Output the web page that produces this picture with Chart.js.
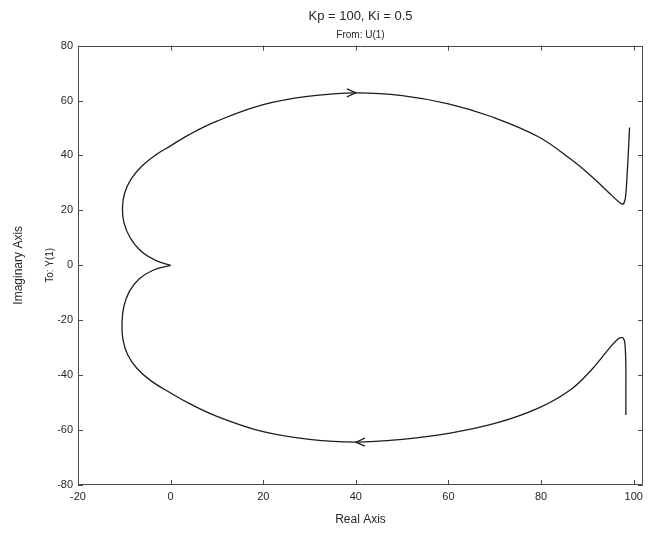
<!DOCTYPE html>
<html><head><meta charset="utf-8">
<script src="https://cdn.jsdelivr.net/npm/chart.js@4/dist/chart.umd.min.js"></script>
<style>html,body{margin:0;padding:0;background:#fff}</style>
</head><body>
<canvas id="c" width="648" height="533"></canvas>
<script>
// Tick labels
const xTicks = [-20, 0, 20, 40, 60, 80, 100];
const yTicks = [-80, -60, -40, -20, 0, 20, 40, 60, 80];

// Nyquist curve pieces (Real, Imaginary), in traversal order
const lowerTailRe = [98.3, 98.3, 98.3, 98.2, 98.0, 97.6];
const lowerTailIm = [-54.5, -45, -37, -31, -27.5, -26.2];

const lowerArcRe = [97.6, 96.6, 94.4, 90.8, 86.2, 79.4, 70, 60, 50, 40, 30, 20, 10, 4, 0, -4.3, -7.3, -9.3, -10.3, -10.5, -10.1, -8.9, -6.8, -3.8, 0];
const lowerArcIm = [-26.2, -26.8, -30.9, -38.2, -45.5, -52, -57.6, -61.2, -63.4, -64.4, -63.4, -60.6, -55, -50.3, -46.5, -42, -37.5, -32.5, -27, -21, -15, -9.5, -5, -1.8, 0];

const upperArcRe = [0, -3, -6.3, -8.8, -10.1, -10.4, -9.9, -8.5, -6.3, -3.2, 0, 4, 10, 20, 30, 40, 50, 60, 69.5, 79.4, 86.5, 90.8, 94.4, 97, 97.8];
const upperArcIm = [0, 1.6, 5, 10.2, 15.6, 21, 26.5, 31.5, 36, 40.2, 43.5, 47.6, 52.5, 58.5, 61.6, 62.8, 61.8, 58.8, 54, 46.8, 38.5, 32.5, 26.8, 22.8, 22.2];

const upperTailRe = [97.8, 98.2, 98.5, 98.8, 99.1];
const upperTailIm = [22.2, 24.5, 31, 40, 50.2];

// Direction arrows
const arrowRe = [40, 40];
const arrowIm = [62.8, -64.4];
const arrowDir = [1, -1];

const FONT = "'Liberation Sans', Arial, Helvetica, sans-serif";
const TXT = '#262626';
const LINE = '#1c1c1c';

function pts(xs, ys) { return xs.map((v, i) => ({ x: v, y: ys[i] })); }
function ds(xs, ys) {
  return { data: pts(xs, ys), showLine: true, borderColor: LINE, borderWidth: 1.3,
           pointRadius: 0, tension: 0.4, fill: false };
}

const framePlugin = {
  id: 'frame',
  afterDatasetsDraw(chart) {
    const { ctx, chartArea: a, scales: { x, y } } = chart;
    ctx.save();
    ctx.strokeStyle = '#4a4a4a';
    ctx.lineWidth = 1;
    ctx.beginPath();
    ctx.rect(Math.round(a.left) + 0.5, Math.round(a.top) + 0.5,
             Math.round(a.right - a.left) - 1, Math.round(a.bottom - a.top) - 1);
    x.ticks.forEach(t => {
      const px = Math.round(x.getPixelForValue(t.value)) + 0.5;
      ctx.moveTo(px, a.bottom); ctx.lineTo(px, a.bottom - 5);
      ctx.moveTo(px, a.top); ctx.lineTo(px, a.top + 5);
    });
    y.ticks.forEach(t => {
      const py = Math.round(y.getPixelForValue(t.value)) + 0.5;
      ctx.moveTo(a.left, py); ctx.lineTo(a.left + 5, py);
      ctx.moveTo(a.right, py); ctx.lineTo(a.right - 5, py);
    });
    ctx.stroke();
    // arrows
    ctx.strokeStyle = LINE;
    ctx.lineWidth = 1.2;
    arrowRe.forEach((re, i) => {
      const px = x.getPixelForValue(re), py = y.getPixelForValue(arrowIm[i]);
      const d = arrowDir[i];
      ctx.beginPath();
      ctx.moveTo(px - d * 9, py - 4);
      ctx.lineTo(px, py);
      ctx.lineTo(px - d * 9, py + 4);
      ctx.stroke();
    });
    ctx.restore();
  }
};

new Chart(document.getElementById('c'), {
  type: 'scatter',
  data: { datasets: [ds(lowerTailRe, lowerTailIm), ds(lowerArcRe, lowerArcIm),
                     ds(upperArcRe, upperArcIm), ds(upperTailRe, upperTailIm)] },
  options: {
    responsive: false,
    animation: false,
    events: [],
    layout: { padding: { left: 0, right: 5, top: 0, bottom: 0 } },
    plugins: {
      legend: { display: false },
      tooltip: { enabled: false },
      title: { display: true, text: 'Kp = 100, Ki = 0.5', fullSize: false, color: TXT,
               font: { family: FONT, size: 13, weight: 'normal' }, padding: { top: 9, bottom: 2 } },
      subtitle: { display: true, text: 'From: U(1)', fullSize: false, color: TXT,
                  font: { family: FONT, size: 10, weight: 'normal' }, padding: { top: 3, bottom: 4 } }
    },
    scales: {
      x: {
        type: 'linear', position: 'bottom', min: -20, max: 102,
        afterBuildTicks: s => { s.ticks = xTicks.map(v => ({ value: v })); },
        afterFit: s => { s.height = 48; },
        grid: { display: false, drawTicks: false },
        border: { display: false },
        ticks: { color: TXT, font: { family: FONT, size: 11 }, padding: 5, maxRotation: 0, autoSkip: false },
        title: { display: true, text: 'Real Axis', color: TXT, font: { family: FONT, size: 12 },
                 padding: { top: 0, bottom: 6 } }
      },
      y: {
        type: 'linear', position: 'left', min: -80, max: 80, weight: 0,
        afterBuildTicks: s => { s.ticks = yTicks.map(v => ({ value: v })); },
        afterFit: s => { s.width = 20; },
        grid: { display: false, drawTicks: false },
        border: { display: false },
        ticks: { color: TXT, font: { family: FONT, size: 11 }, padding: 5, autoSkip: false }
      },
      yTo: {
        type: 'linear', position: 'left', weight: 1,
        afterFit: s => { s.width = 22; },
        grid: { display: false, drawTicks: false },
        border: { display: false },
        ticks: { display: false },
        title: { display: true, text: 'To: Y(1)', color: TXT, font: { family: FONT, size: 10 },
                 padding: { top: 8, bottom: 0 } }
      },
      yIm: {
        type: 'linear', position: 'left', weight: 2,
        afterFit: s => { s.width = 36; },
        grid: { display: false, drawTicks: false },
        border: { display: false },
        ticks: { display: false },
        title: { display: true, text: 'Imaginary Axis', color: TXT, font: { family: FONT, size: 12 },
                 padding: { top: 11, bottom: 0 } }
      }
    }
  },
  plugins: [framePlugin]
});
</script>
</body></html>
